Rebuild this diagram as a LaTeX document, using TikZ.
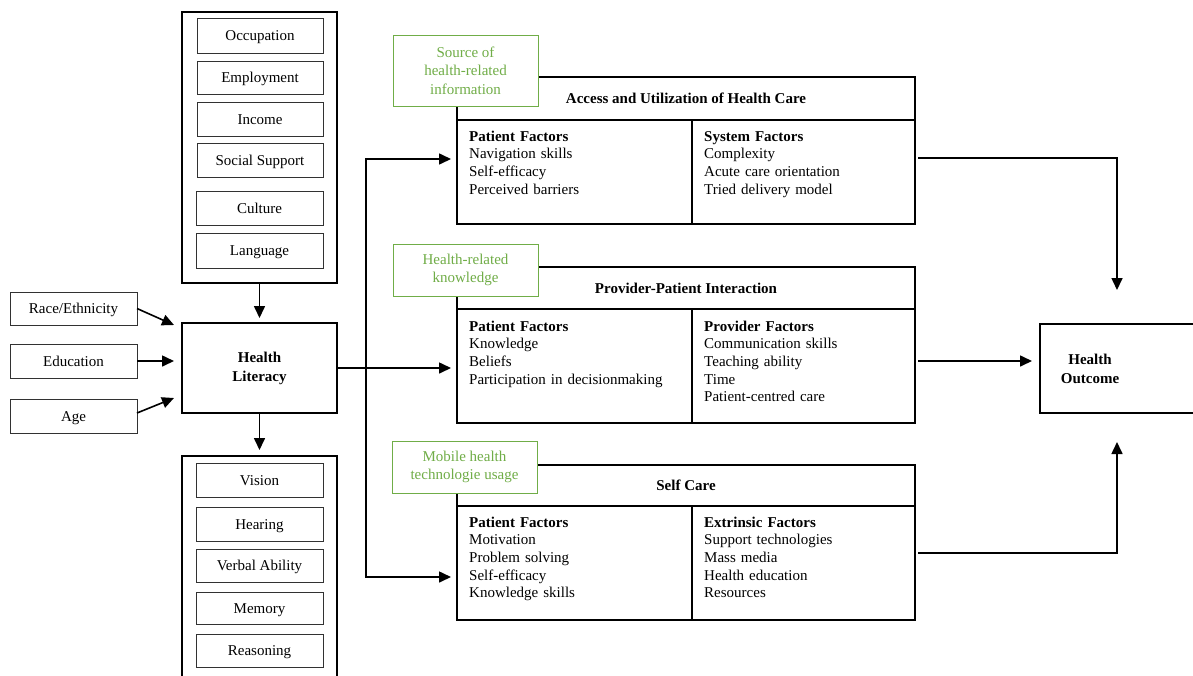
\documentclass[tikz,border=0pt]{standalone}
\usepackage{fontspec}
\setmainfont{Liberation Serif}
\usetikzlibrary{arrows.meta,calc}
\definecolor{grn}{RGB}{112,173,71}
\definecolor{dgray}{RGB}{50,50,50}
\newcommand\rbox[6][]{\node[rb,#1,minimum width={(#4)-(#2)},minimum height={(#5)-(#3)}] (#6) at (#2,#3)}
\begin{document}
\begin{tikzpicture}[x=1pt,y=-1pt,
 every node/.style={font=\fontsize{15}{17.7}\selectfont},
 rb/.style={anchor=north west,inner sep=0pt,outer sep=0pt,align=center},
 one/.style={text height=10.2pt,text depth=0pt},
 thin box/.style={draw=dgray,line width=1pt},
 thick box/.style={draw=black,line width=1.7pt},
 gbox/.style={draw=grn,line width=0.9pt,fill=white,text=grn,font=\fontsize{15}{18.3}\selectfont},
 hdr/.style={font=\fontsize{15}{19}\selectfont\bfseries},
 lst/.style={anchor=base west,text width=215pt,align=left,inner sep=0pt},
 arr/.style={line width=1.6pt,-{Triangle[length=12pt,width=11pt]}}
]
\useasboundingbox (0,0) rectangle (1193,675);

% top column
\rbox[thick box]{182}{12}{337}{283}{soc}{};
\rbox[thin box,one]{197}{18}{323}{53}{occ}{Occupation};
\rbox[thin box,one]{197}{61}{323}{94}{emp}{Employment};
\rbox[thin box,one]{197}{102}{323}{136}{inc}{Income};
\rbox[thin box,one]{197}{143}{323}{177}{ssup}{Social Support};
\rbox[thin box,one]{196}{191}{323}{225}{cul}{Culture};
\rbox[thin box,one]{196}{233}{323}{268}{lang}{Language};

% left boxes
\rbox[thin box,one]{10}{292}{137}{325}{race}{Race/Ethnicity};
\rbox[thin box,one]{10}{344}{137}{378}{edu}{Education};
\rbox[thin box,one]{10}{399}{137}{433}{age}{Age};

% health literacy
\rbox[thick box,hdr]{182}{323}{337}{413}{hl}{Health\\Literacy};

% bottom column
\rbox[thick box]{182}{456}{337}{700}{cog}{};
\rbox[thin box,one]{196}{463}{323}{497}{vis}{Vision};
\rbox[thin box,one]{196}{507}{323}{541}{hear}{Hearing};
\rbox[thin box,one]{196}{549}{323}{582}{verb}{Verbal Ability};
\rbox[thin box,one]{196}{592}{323}{624}{mem}{Memory};
\rbox[thin box,one]{196}{634}{323}{667}{reas}{Reasoning};

% module 1
\rbox[thick box,hdr,one]{457}{77}{915}{120}{accH}{Access and Utilization of Health Care};
\rbox[thick box]{457}{120}{692}{224}{accL}{};
\rbox[thick box]{692}{120}{915}{224}{accR}{};
\node[lst] (accLt) at (469,141) {\textbf{Patient Factors}\\Navigation skills\\Self-efficacy\\Perceived barriers};
\node[lst] (accRt) at (704,141) {\textbf{System Factors}\\Complexity\\Acute care orientation\\Tried delivery model};

% module 2
\rbox[thick box,hdr,one]{457}{267}{915}{309}{provH}{Provider-Patient Interaction};
\rbox[thick box]{457}{309}{692}{423}{provL}{};
\rbox[thick box]{692}{309}{915}{423}{provR}{};
\node[lst] (provLt) at (469,331) {\textbf{Patient Factors}\\Knowledge\\Beliefs\\Participation in decisionmaking};
\node[lst] (provRt) at (704,331) {\textbf{Provider Factors}\\Communication skills\\Teaching ability\\Time\\Patient-centred care};

% module 3
\rbox[thick box,hdr,one]{457}{465}{915}{506}{scH}{Self Care};
\rbox[thick box]{457}{506}{692}{620}{scL}{};
\rbox[thick box]{692}{506}{915}{620}{scR}{};
\node[lst] (scLt) at (469,527) {\textbf{Patient Factors}\\Motivation\\Problem solving\\Self-efficacy\\Knowledge skills};
\node[lst] (scRt) at (704,527) {\textbf{Extrinsic Factors}\\Support technologies\\Mass media\\Health education\\Resources};

% green labels
\rbox[gbox]{393}{35}{538}{106}{g1}{Source of\\health-related\\information};
\rbox[gbox]{393}{244}{538}{296}{g2}{Health-related\\knowledge};
\rbox[gbox]{392}{441}{537}{493}{g3}{Mobile health\\technologie usage};

% health outcome
\rbox[thick box]{1040}{324}{1215}{413}{ho}{};
\node[hdr,align=center] (hot) at (1090,369) {Health\\Outcome};

% arrows left side
\draw[arr] (soc.south) -- ([yshift=5pt]hl.north);
\draw[arr] (hl.south) -- ([yshift=6pt]cog.north);
\draw[arr] (race.east) -- ([shift={(-8,2)}]hl.north west);
\draw[arr,shorten >=8pt] (edu.east) -- (edu.east -| hl.west);
\draw[arr] ([shift={(0,-3)}]age.east) -- ([shift={(-8,-15)}]hl.south west);

% from health literacy
\coordinate (j) at ([shift={(29,0)}]hl.east);
\draw[arr,shorten >=6pt] (hl.east) -- (hl.east -| provL.west);
\draw[arr,shorten >=6pt] (j) |- ([shift={(0,-13)}]accL.west);
\draw[arr,shorten >=6pt] (j) |- ([shift={(0,14)}]scL.west);

% to health outcome
\coordinate (a1) at ([shift={(3,38)}]accR.north east);
\coordinate (hoN) at ([shift={(77,-34)}]ho.north west);
\draw[arr] (a1) -| (hoN);
\coordinate (p1) at ([shift={(3,52)}]provR.north east);
\draw[arr,shorten >=8pt] (p1) -- (p1 -| ho.west);
\coordinate (s1) at ([shift={(3,47)}]scR.north east);
\coordinate (hoS) at ([shift={(77,29)}]ho.south west);
\draw[arr] (s1) -| (hoS);
\end{tikzpicture}
\end{document}
